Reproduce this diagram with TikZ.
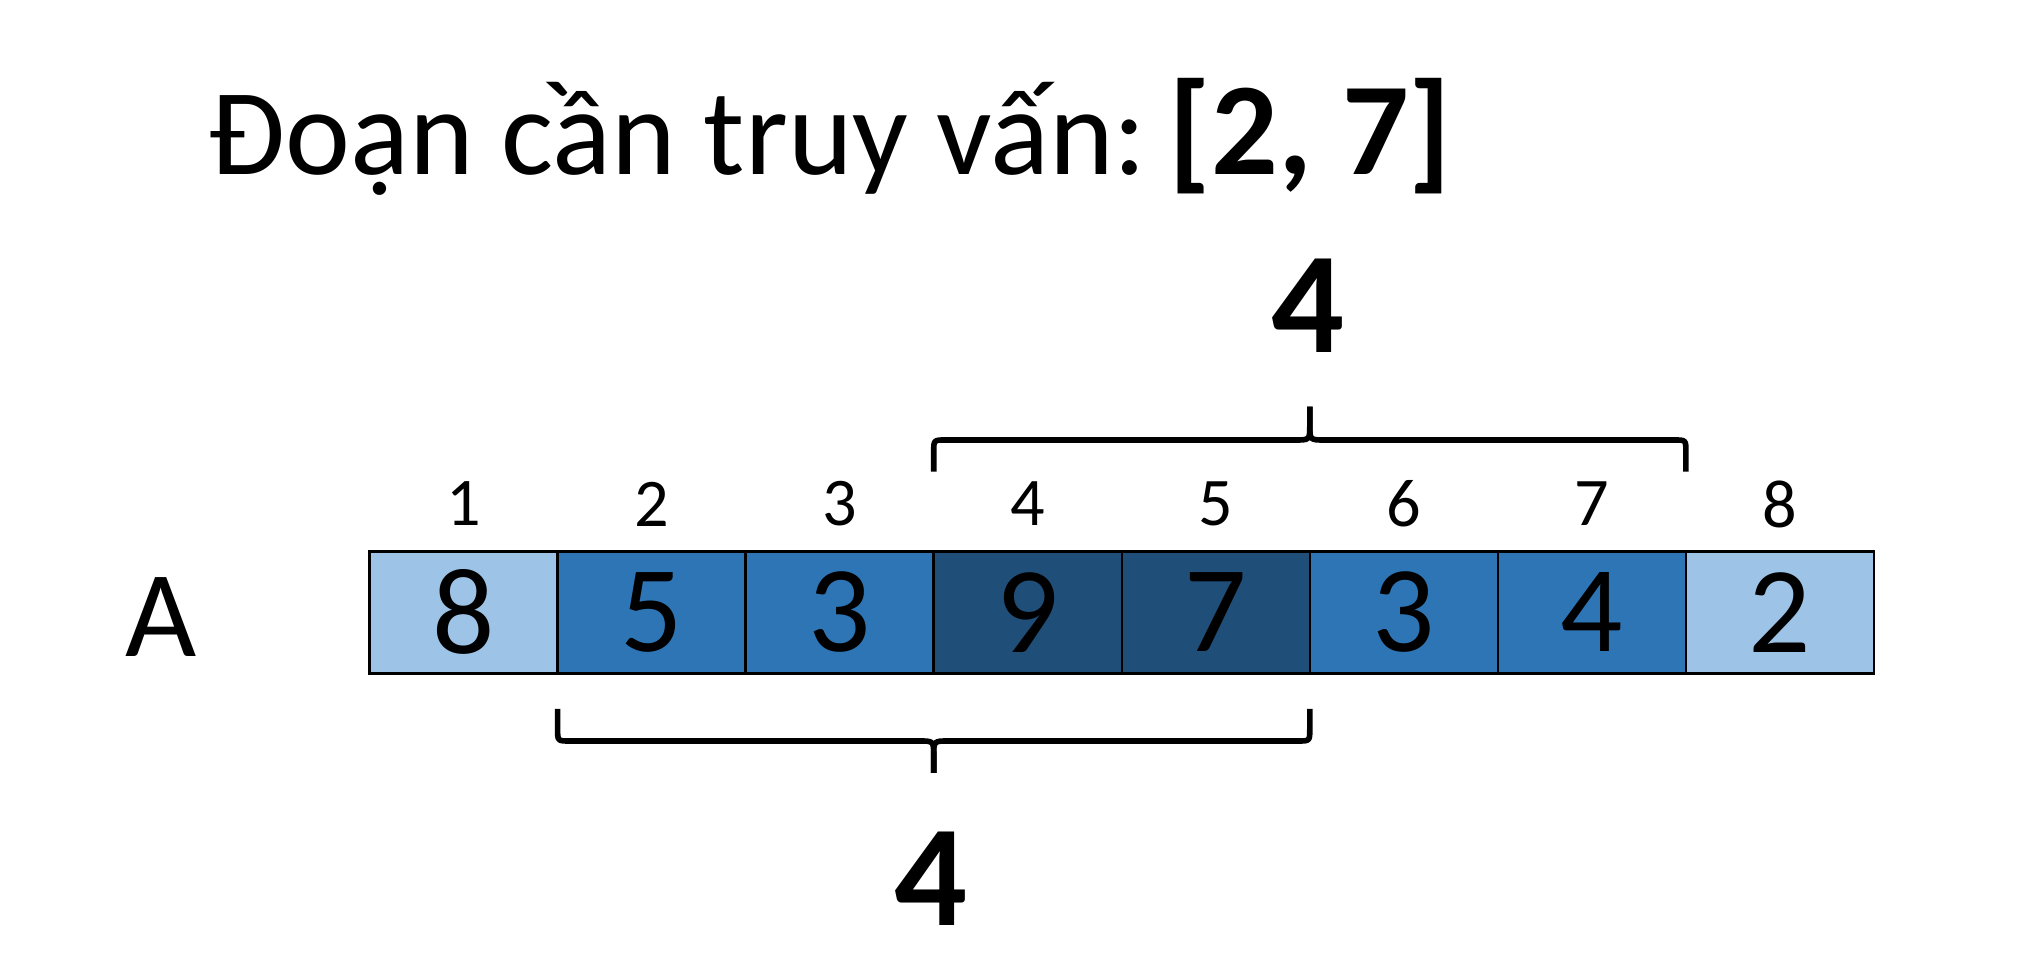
\documentclass[tikz,border=0pt]{standalone}
\usepackage{fontspec}
\setmainfont{Carlito}
\usetikzlibrary{positioning}
\definecolor{lightblue}{HTML}{9DC3E6}
\definecolor{midblue}{HTML}{2E75B6}
\definecolor{darkblue}{HTML}{1F4E79}
\tikzset{
  cell/.style={draw=black, line width=0.7pt, minimum width=1.8806cm, minimum height=1.22cm, inner sep=0pt, font=\fontsize{35}{40}\selectfont},
  idx/.style={inner sep=0pt, font=\fontsize{19.4}{22}\selectfont},
  total/.style={inner sep=0pt, anchor=base, font=\fontsize{41}{46}\selectfont\bfseries},
  brace/.style={line width=1.6pt, line join=round}
}
\begin{document}
\begin{tikzpicture}
\useasboundingbox (0,0) rectangle (20.23,9.79);

% query
\node[anchor=base west, inner sep=0pt, font=\fontsize{35}{40}\selectfont] (query) at (2.08,8.04) {Đoạn cần truy vấn:};
\node[anchor=base west, inner sep=0pt, font=\fontsize{37.5}{42}\selectfont\bfseries] (range) at (11.68,8.04) {[2, 7]};

% array A
\node[inner sep=0pt, font=\fontsize{35}{40}\selectfont] (arr) at (1.61,3.62) {A};
\foreach \v/\c [count=\i] in {8/lightblue,5/midblue,3/midblue,9/darkblue,7/darkblue,3/midblue,4/midblue,2/lightblue} {
  \node[cell, fill=\c] (c\i) at ({3.695+(\i-0.5)*1.8806},3.667) {\v};
  \node[idx] (i\i) at ({3.695+(\i-0.5)*1.8806},4.75) {\i};
}

% braces
\draw[brace] (9.337,5.073) -- (9.337,5.27) .. controls (9.337,5.39) .. (9.457,5.39) -- (12.95,5.39) .. controls (13.098,5.39) .. (13.098,5.54) -- (13.098,5.723);
\draw[brace] (13.098,5.723) -- (13.098,5.54) .. controls (13.098,5.39) .. (13.246,5.39) -- (16.739,5.39) .. controls (16.859,5.39) .. (16.859,5.27) -- (16.859,5.073);
\draw[brace] (5.576,2.70) -- (5.576,2.50) .. controls (5.576,2.38) .. (5.696,2.38) -- (9.189,2.38) .. controls (9.337,2.38) .. (9.337,2.23) -- (9.337,2.06);
\draw[brace] (9.337,2.06) -- (9.337,2.23) .. controls (9.337,2.38) .. (9.485,2.38) -- (12.978,2.38) .. controls (13.098,2.38) .. (13.098,2.50) -- (13.098,2.70);

\node[total] (top) at (13.08,6.26) {4};
\node[total] (bottom) at (9.31,0.53) {4};

\end{tikzpicture}
\end{document}
